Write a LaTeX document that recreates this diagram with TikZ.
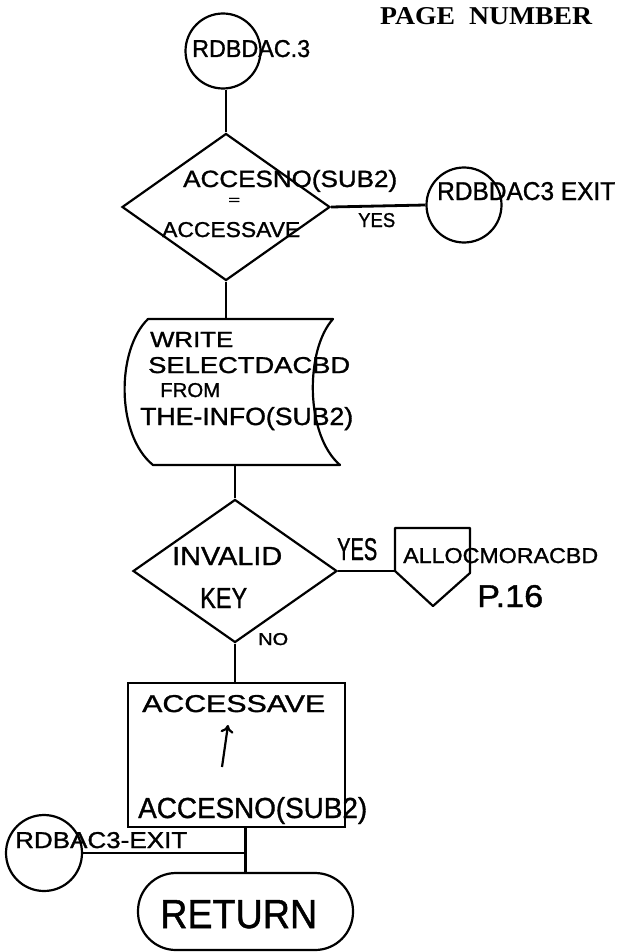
\documentclass[tikz,border=0pt]{standalone}
\usepackage{fontspec}
\setmainfont{Liberation Sans}
\newfontfamily\hwfont[FakeBold=1.2]{Liberation Sans}
\newfontfamily\pgfont{Liberation Serif}
\usetikzlibrary{shapes.geometric,arrows.meta}
\newcommand\hwtext[3]{\resizebox{#1pt}{#2pt}{\hwfont #3}}
\begin{document}
\begin{tikzpicture}[x=1pt,y=-1pt,
  shp/.style={draw, line width=2.2pt, inner sep=0pt},
  conn/.style={line width=2.8pt},
  lbl/.style={inner sep=0pt, anchor=base west}]
\useasboundingbox (0,0) rectangle (627,952);

% shapes
\node[shp, circle, minimum size=75pt] (c1) at (223,51) {};
\node[shp, diamond, minimum width=208pt, minimum height=147pt] (d1) at (226,207) {};
\node[shp, circle, minimum size=75pt] (x1) at (464,205) {};
\node[inner sep=0pt, minimum width=192pt, minimum height=146pt] (doc) at (244,392) {};
\draw[line width=2.2pt, line join=round] (148,319) -- (333,319) .. controls (305,350) and (305,435) .. (340,465)
  -- (153,465) .. controls (116,435) and (116,350) .. (148,319) -- cycle;
\node[shp, diamond, minimum width=204pt, minimum height=143pt] (d2) at (235,571) {};
\coordinate (pL) at (395,571);
\draw[line width=2.2pt, line join=round] (395,528) -- (470,528) -- (470,573) -- (433,606) -- (pL) -- cycle;
\node[shp, rectangle, minimum width=217pt, minimum height=144pt] (box) at (236.5,755) {};
\node[shp, circle, minimum size=76pt] (x2) at (44,853) {};
\node[shp, rectangle, rounded corners=38pt, minimum width=215pt, minimum height=77pt] (ret) at (245.5,911.5) {};

% connectors
\draw[conn] (d1.north) -- (d1.north |- c1.south);
\draw[conn] (d1.east) -- (x1.west);
\draw[conn] (d1.south) -- (d1.south |- doc.north);
\draw[conn] (d2.north) -- (d2.north |- doc.south);
\draw[conn] (d2.east) -- (pL);
\draw[conn] (d2.south) -- (d2.south |- box.north);
\coordinate (j) at (ret.north |- x2.east);
\draw[conn] (box.south -| ret.north) -- (ret.north);
\draw[conn] (x2.east) -- (j);

% arrow inside box
\coordinate (a0) at (222,767);
\coordinate (a1) at (228,725);
\draw[line width=2.2pt, -{To[length=8pt,width=13pt]}] (a0) -- (a1);

% texts
\node[lbl] (pn) at (380,25) {\hwtext{212}{17}{\pgfont\bfseries PAGE\ \ NUMBER}};
\node[lbl] (t1) at (192,57) {\hwtext{118}{17}{RDBDAC.3}};
\node[lbl] (t2) at (183,187) {\hwtext{214}{17}{ACCESNO(SUB2)}};
\node[lbl] (t3) at (228,204) {\hwtext{12}{6}{=}};
\node[lbl] (t4) at (162,237) {\hwtext{138}{15}{ACCESSAVE}};
\node[lbl] (t5) at (358,227) {\hwtext{37}{14}{YES}};
\node[lbl] (t6) at (437,200) {\hwtext{178}{18}{RDBDAC3 EXIT}};
\node[lbl] (t7) at (150,347) {\hwtext{83}{15}{WRITE}};
\node[lbl] (t8) at (148,373) {\hwtext{202}{16}{SELECTDACBD}};
\node[lbl] (t9) at (160,397) {\hwtext{60}{14}{FROM}};
\node[lbl] (t10) at (140,425) {\hwtext{213}{18}{THE-INFO(SUB2)}};
\node[lbl] (t11) at (172,565) {\hwtext{110}{18}{INVALID}};
\node[lbl] (t12) at (200,608) {\hwtext{47}{20}{KEY}};
\node[lbl] (t13) at (337,560) {\hwtext{40}{22}{YES}};
\node[lbl] (t14) at (403,563) {\hwtext{195}{15}{ALLOCMORACBD}};
\node[lbl] (t15) at (477,607) {\hwtext{66}{22}{P.16}};
\node[lbl] (t16) at (258,645) {\hwtext{30}{12}{NO}};
\node[lbl] (t17) at (142,712) {\hwtext{183}{17}{ACCESSAVE}};
\node[lbl] (t18) at (138,818) {\hwtext{229}{21}{ACCESNO(SUB2)}};
\node[lbl] (t19) at (15,848) {\hwtext{172}{16}{RDBAC3-EXIT}};
\node[lbl] (t20) at (160,928) {\hwtext{157}{28}{RETURN}};
\end{tikzpicture}
\end{document}
